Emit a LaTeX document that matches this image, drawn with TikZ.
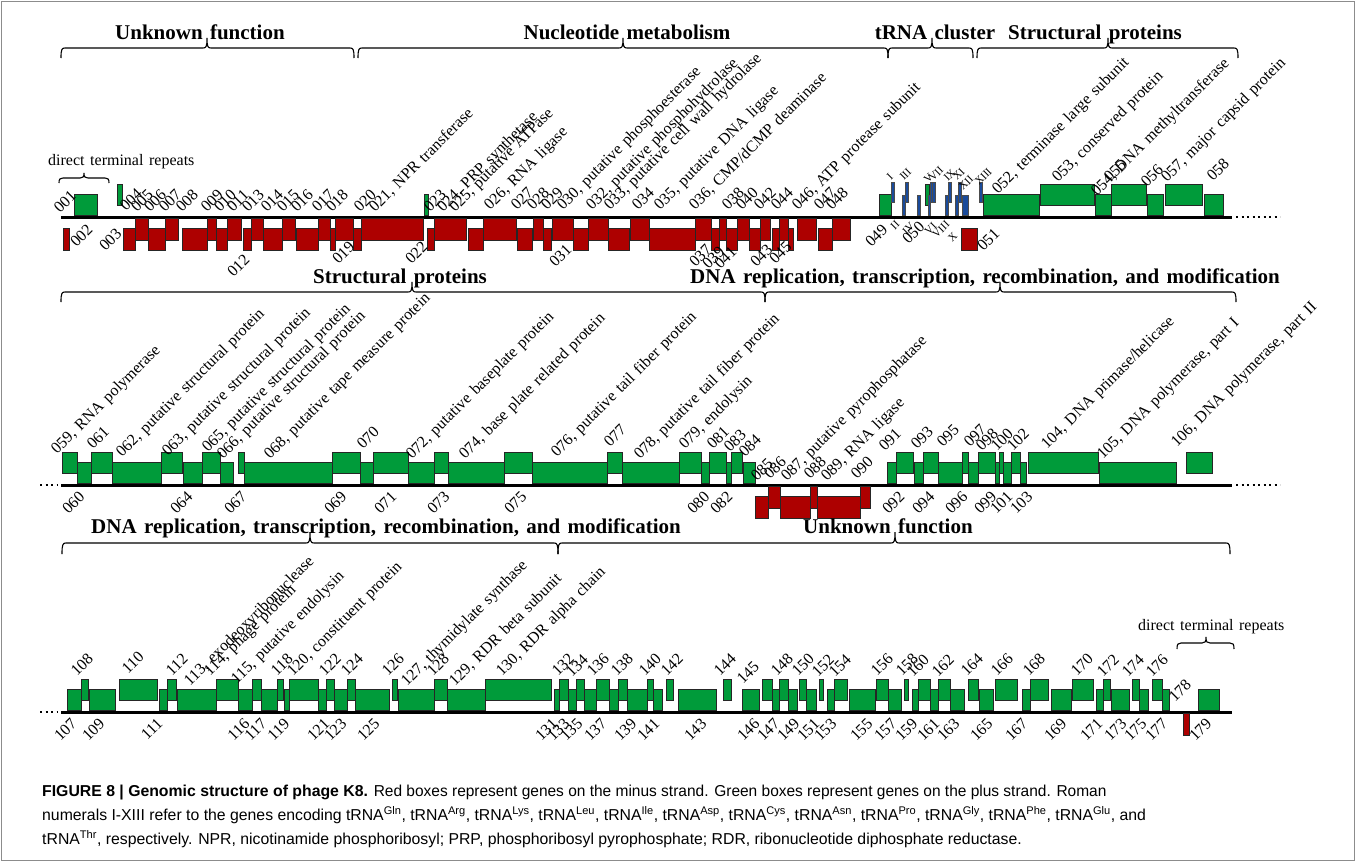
\documentclass[tikz,border=0pt]{standalone}
\usepackage{graphicx}
\usepackage{fontspec}
\setmainfont{Liberation Serif}
\newfontfamily\lblfamily{Liberation Serif}[WordSpace=1.8]
\newfontfamily\hdrfamily{Liberation Serif}[WordSpace=1.4]
\newfontfamily\capfamily{Liberation Sans}
\definecolor{KeGreen}{HTML}{009B3A}
\definecolor{KeRed}{HTML}{AD0000}
\definecolor{KeBlue}{HTML}{1A4B9B}
\newcommand{\lblfont}{\lblfamily\fontsize{16pt}{16pt}\selectfont}
\newcommand{\trnafont}{\lblfamily\fontsize{11pt}{11pt}\selectfont}
\newcommand{\hdrfont}{\hdrfamily\bfseries\fontsize{21pt}{21pt}\selectfont}
\newcommand{\trna}[1]{tRNA\textsuperscript{#1}}
\tikzset{
  plusgene/.style={draw=black!85,line width=0.6pt,fill=KeGreen},
  minusgene/.style={draw=black!85,line width=0.6pt,fill=KeRed},
  trnagene/.style={draw=black!70,line width=0.4pt,fill=KeBlue},
  genelbl/.style={rotate=45,anchor=base west,inner sep=0pt,font=\lblfont},
  genelblb/.style={rotate=45,anchor=north east,inner sep=0pt,font=\lblfont},
  trnalbl/.style={rotate=45,anchor=base west,inner sep=0pt,font=\trnafont},
  trnalblb/.style={rotate=45,anchor=north east,inner sep=0pt,font=\trnafont},
  hdr/.style={anchor=base,inner sep=0pt,font=\hdrfont},
  backbone/.style={line width=3pt},
  cont/.style={line width=2pt,dash pattern=on 2pt off 3.5pt},
  capline/.style={anchor=base west,inner sep=0pt,font=\capfamily\fontsize{15.8pt}{15.8pt}\selectfont}
}
\newcommand{\PlusGenes}[2]{\foreach \a/\b/\l in {#2} \draw[plusgene] (\a,#1-2-10*\l) rectangle (\b,#1-23-10*\l);}
\newcommand{\MinusGenes}[2]{\foreach \a/\b/\l in {#2} \draw[minusgene] (\a,#1+11-10*\l) rectangle (\b,#1+33-10*\l);}
\newcommand{\TopLabels}[3]{\foreach \x/\y/\t [count=\i] in {#3} \node[#2] (#1\i) at (\x,\y) {\t};}
\newcommand{\BotLabels}[4]{\foreach \x/\y/\t [count=\i] in {#4} \node[#2] (#1\i) at (\x-#3,\y) {\t};}
\newcommand{\KeBrace}[5]{%
  \draw[line width=1.1pt] (#1,#4+#5) .. controls (#1,#4+1) and (#1+1,#4) .. (#1+4,#4) -- (#3-4,#4)
    .. controls (#3-1,#4) and (#3,#4-1) .. (#3,#4-#5) .. controls (#3,#4-1) and (#3+1,#4) .. (#3+4,#4)
    -- (#2-4,#4) .. controls (#2-1,#4) and (#2,#4+1) .. (#2,#4+#5);}

\begin{document}
\begin{tikzpicture}[x=1pt,y=-1pt]
  \useasboundingbox (0,0) rectangle (1356,862);
  \fill[white] (0,0) rectangle (1356,862);
  \draw[black!45,line width=1pt] (1.5,1.5) rectangle (1354.5,860.5);

  \KeBrace{61}{354}{207}{48}{10}
  \KeBrace{358}{888}{623}{48}{10}
  \KeBrace{888}{973}{932}{48}{10}
  \KeBrace{977}{1238}{1108}{48}{10}
  \node[hdr] (h1) at (200,39) {Unknown function};
  \node[hdr] (h2) at (627,39) {Nucleotide metabolism};
  \node[hdr] (h3) at (935,39) {tRNA cluster};
  \node[hdr] (h4) at (1095,39) {Structural proteins};
  \KeBrace{59}{109}{84}{178}{5}
  \node[anchor=base west,inner sep=0pt,font=\lblfont] (dtr1) at (48,165) {direct terminal repeats};

  \draw[backbone] (61,217) -- (1232,217);
  \draw[cont] (1236,217) -- (1280,217);
  \PlusGenes{217}{74/97/0, 117/122/1, 424/428/0, 879/891/0, 925/929/1, 983/1039/0, 1040/1094/1, 1095/1111/0, 1111/1146/1, 1147/1163/0, 1165/1202/1, 1204/1223/0}
  \MinusGenes{217}{63/69/0, 123/135/0, 135/148/1, 148/165/0, 165/178/1, 182/207/0, 207/216/1, 216/227/0, 227/241/1, 243/251/0, 251/263/1, 263/282/0, 282/295/1, 296/318/0, 318/330/1, 330/335/0, 335/353/1, 353/361/0, 361/423/1, 427/434/0, 434/466/1, 468/483/0, 483/516/1, 517/532/0, 533/543/1, 543/551/0, 552/573/1, 573/588/0, 588/608/1, 608/629/0, 630/649/1, 649/695/0, 695/711/1, 711/719/0, 719/726/1, 726/737/0, 737/749/1, 749/760/0, 760/770/1, 772/779/0, 779/788/1, 788/793/0, 797/816/1, 818/832/0, 832/850/1, 961/977/0}
  \foreach \a/\b in {891/894, 905/908, 930/932.5, 932.5/935, 948/951, 958/961, 979/982}
    \draw[trnagene] (\a,182) rectangle (\b,202);
  \foreach \a/\b in {902/905, 917/920, 928/930.5, 945/948, 955/958, 962/968}
    \draw[trnagene] (\a,195) rectangle (\b,215);
  \TopLabels{a}{genelbl}{60/214/001, 126/212/004, 137/213/005, 150/213/006, 165/213/007, 182/213/008, 207/213/009, 220/213/010, 233/213/011, 248/213/013, 267/213/014, 283/213/015, 297/213/016, 318/213/017, 332/213/018, 360/213/020, 375/213/{021, NPR transferase}, 430/213/023, 443/213/{024, PRP synthetase}, 455/213/{025, putative ATPase}, 490/211/{026, RNA ligase}, 517/211/027, 533/211/028, 547/211/029, 563/211/{030, putative phosphoesterase}, 592/211/{032, putative phosphohydrolase}, 610/211/{033, putative cell wall hydrolase}, 638/211/034, 660/211/{035, putative DNA ligase}, 695/211/{036, CMP/dCMP deaminase}, 728/211/038, 742/211/040, 760/211/042, 777/211/044, 798/211/{046, ATP protease subunit}, 820/211/047, 832/211/048, 998/195/{052, terminase large subunit}, 1058/183/{053, conserved protein}, 1097/197/{054, DNA methyltransferase}, 1110/183/055, 1147/188/056, 1167/183/{057, major capsid protein}, 1213/182/058}
  \BotLabels{b}{genelblb}{7}{93/223/002, 122/227/003, 250/253/012, 355/240/019, 428/240/022, 572/243/031, 712/243/037, 725/245/039, 737/245/041, 773/243/043, 792/240/045, 888/223/049, 925/220/050, 1000/227/051}
  \TopLabels{c}{trnalbl}{891/181/I, 904/181/III, 928/184/V, 933/182/VII, 948/182/IX, 957/181/XI, 963/191/XII, 979/186/XIII}
  \BotLabels{d}{trnalblb}{5}{900/220/II, 915/222/IV, 937/222/VI, 950/220/VIII, 958/232/X}

  \KeBrace{61}{765}{412}{292}{10}
  \KeBrace{765}{1236}{1000}{292}{10}
  \node[hdr] (h5) at (400,283) {Structural proteins};
  \node[hdr] (h6) at (985,283) {DNA replication, transcription, recombination, and modification};

  \draw[backbone] (61,485) -- (1232,485);
  \draw[cont] (40,485) -- (58,485);
  \draw[cont] (1236,485) -- (1280,485);
  \PlusGenes{485}{62/77/1, 77/91/0, 91/112/1, 112/161/0, 161/182/1, 183/202/0, 202/220/1, 220/233/0, 238/244/1, 244/332/0, 332/360/1, 360/373/0, 373/408/1, 408/434/0, 434/448/1, 448/504/0, 504/532/1, 532/607/0, 607/622/1, 622/679/0, 679/701/1, 701/709/0, 709/726/1, 726/731/0, 731/742/1, 743/755/0, 887/896/0, 896/913/1, 914/923/0, 923/938/1, 938/962/0, 962/968/1, 968/978/0, 978/995/1, 995/999/0, 999/1003/1, 1003/1011/0, 1011/1020/1, 1020/1026/0, 1028/1098/1, 1099/1176/0, 1186/1212/1}
  \MinusGenes{485}{755/768/0, 768/780/1, 780/810/0, 810/817/1, 817/860/0, 860/870/1}
  \TopLabels{e}{genelbl}{57/455/{059, RNA polymerase}, 93/450/061, 122/458/{062, putative structural protein}, 168/457/{063, putative structural protein}, 208/453/{065, putative structural protein}, 223/460/{066, putative structural protein}, 270/460/{068, putative tape measure protein}, 363/450/070, 412/460/{072, putative baseplate protein}, 465/460/{074, base plate related protein}, 557/458/{076, putative tail fiber protein}, 610/448/077, 640/460/{078, putative tail fiber protein}, 685/450/{079, endolysin}, 713/450/081, 730/453/083, 745/458/084, 757/482/085, 770/480/086, 787/482/{087, putative pyrophosphatase}, 810/480/088, 827/482/{089, RNA ligase}, 857/480/090, 885/452/091, 917/450/093, 943/448/095, 970/448/097, 982/452/098, 997/452/100, 1013/452/102, 1047/450/{104, DNA primase/helicase}, 1103/460/{105, DNA polymerase, part I}, 1177/448/{106, DNA polymerase, part II}}
  \BotLabels{f}{genelblb}{7}{85/490/060, 193/490/064, 247/490/067, 347/490/069, 397/490/071, 450/490/073, 527/490/075, 710/490/080, 733/490/082, 905/490/092, 935/490/094, 968/490/096, 997/490/099, 1013/490/101, 1033/490/103}

  \KeBrace{62}{558}{310}{543}{11}
  \KeBrace{558}{1230}{895}{543}{11}
  \node[hdr] (h7) at (386,533) {DNA replication, transcription, recombination, and modification};
  \node[hdr] (h8) at (888,533) {Unknown function};
  \KeBrace{1177}{1234}{1206}{643}{6}
  \node[anchor=base west,inner sep=0pt,font=\lblfont] (dtr2) at (1138,630) {direct terminal repeats};

  \draw[backbone] (61,712) -- (1232,712);
  \draw[cont] (40,712) -- (58,712);
  \PlusGenes{712}{67/81/0, 81/88/1, 89/115/0, 119/157/1, 159/167/0, 167/176/1, 177/216/0, 216/238/1, 238/252/0, 252/261/1, 261/277/0, 277/283/1, 284/289/0, 289/318/1, 318/326/0, 326/334/1, 334/347/0, 347/355/1, 355/389/0, 392/397/1, 398/434/0, 434/447/1, 447/485/0, 485/551/1, 554/559/0, 559/568/1, 568/576/0, 576/584/1, 584/596/0, 596/609/1, 609/618/0, 618/627/1, 627/647/0, 647/653/1, 653/662/0, 666/673/1, 678/716/0, 723/731/1, 742/759/0, 762/772/1, 772/779/0, 779/788/1, 788/797/0, 799/806/1, 806/816/0, 819/823/1, 827/834/0, 834/847/1, 849/875/0, 876/888/1, 888/901/0, 904/908/1, 912/918/0, 918/930/1, 930/938/0, 938/950/1, 950/964/0, 968/978/1, 979/993/0, 995/1017/1, 1022/1030/0, 1030/1048/1, 1051/1071/0, 1072/1093/1, 1096/1103/0, 1103/1110/1, 1111/1129/0, 1132/1139/1, 1139/1148/0, 1152/1162/1, 1162/1169/0, 1198/1219/0}
  \MinusGenes{712}{1183/1189/1}
  \TopLabels{g}{genelbl}{77/677/108, 128/675/110, 172/677/112, 190/687/{113, exodeoxyribonuclease}, 210/677/{114, phage protein}, 237/685/{115, putative endolysin}, 277/677/118, 293/677/{120, constituent protein}, 325/677/122, 347/677/124, 388/677/126, 407/687/{127, thymidylate synthase}, 433/677/128, 455/687/{129, RDR beta subunit}, 502/677/{130, RDR alpha chain}, 558/677/132, 572/678/134, 593/677/136, 617/677/138, 645/677/140, 667/677/142, 720/677/144, 743/685/145, 777/677/148, 798/677/150, 818/678/152, 835/678/154, 877/677/156, 902/677/158, 913/678/160, 938/678/162, 967/677/164, 997/677/166, 1029/677/168, 1077/677/170, 1103/678/172, 1128/678/174, 1152/678/176, 1175/703/178}
  \BotLabels{h}{genelblb}{7}{77/717/107, 105/717/109, 163/717/111, 250/717/116, 267/717/117, 290/717/119, 330/717/121, 347/717/123, 380/717/125, 558/717/131, 570/717/133, 583/717/135, 607/717/137, 637/717/139, 660/717/141, 707/717/143, 760/717/146, 780/717/147, 800/717/149, 820/717/151, 837/717/153, 873/717/155, 897/717/157, 918/717/159, 940/717/161, 960/717/163, 993/717/165, 1028/717/167, 1067/717/169, 1103/717/171, 1127/717/173, 1147/717/175, 1168/717/177, 1212/717/179}

  \node[capline] (cap1) at (42,796) {\textbf{FIGURE 8 | Genomic structure of phage K8.} \scalebox{0.98}[1]{Red boxes represent genes on the minus strand. Green boxes represent genes on the plus strand. Roman}};
  \node[capline] (cap2) at (42,820) {numerals I-XIII refer to the genes encoding \trna{Gln}, \trna{Arg}, \trna{Lys}, \trna{Leu}, \trna{Ile}, \trna{Asp}, \trna{Cys}, \trna{Asn}, \trna{Pro}, \trna{Gly}, \trna{Phe}, \trna{Glu}, and};
  \node[capline] (cap3) at (42,844) {\trna{Thr}, respectively. NPR, nicotinamide phosphoribosyl; PRP, phosphoribosyl pyrophosphate; RDR, ribonucleotide diphosphate reductase.};
\end{tikzpicture}
\end{document}
